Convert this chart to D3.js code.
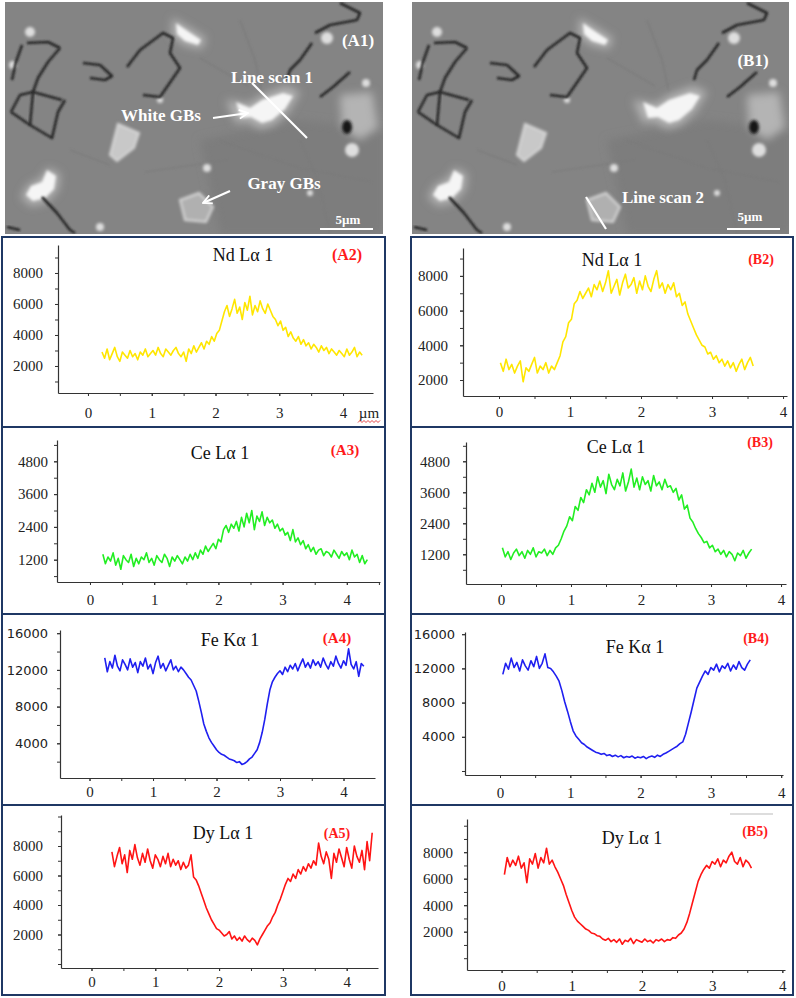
<!DOCTYPE html>
<html lang="en">
<head>
<meta charset="UTF-8">
<title>SEM line scans</title>
<script src="https://d3js.org/d3.v7.min.js"></script>
<style>
  body { margin: 0; background: #fff; }
  svg { display: block; }
</style>
</head>
<body>
<svg id="fig" width="796" height="998"></svg>
<script>
// ---------- data ----------
const xTickValues = [0, 1, 2, 3, 4];
const scanStep = 0.04; // µm between scan points

const ndTicks = [2000, 4000, 6000, 8000];
const ceTicks = [1200, 2400, 3600, 4800];
const feTicks = [4000, 8000, 12000, 16000];
const dyTicks = [2000, 4000, 6000, 8000];

// line scan 1 (column A)
const ndScan1Start = 0.22;
const ndScan1 = [
  2900, 2500, 3100, 2400, 2800, 3200, 2600, 2300, 2900, 2700,
  2500, 3000, 2600, 2800, 2400, 2900, 2700, 3100, 2600, 2800,
  3000, 2700, 3200, 2800, 2600, 3100, 2900, 2700, 3000, 3200,
  2800, 2600, 2900, 2300, 3100, 2800, 3300, 2900, 3200, 3500,
  3100, 3600, 3400, 3900, 3600, 4100, 4300, 4900, 5500, 5900,
  5200, 5700, 6300, 5400, 5800, 5000, 6100, 5600, 6500, 5300,
  5900, 5500, 6200, 5700, 5400, 6000, 5600, 5200, 5000, 4600,
  4900, 4300, 4500, 3900, 4200, 3800, 3600, 3900, 3400, 3700,
  3300, 3500, 3100, 3400, 3200, 2900, 3300, 3000, 3200, 2800,
  3100, 2900, 2700, 3000, 2800, 2600, 3100, 2700, 2900, 3200,
  2600, 2900, 2700
];
const ceScan1Start = 0.20;
const ceScan1 = [
  1400, 1050, 1300, 1150, 1450, 1000, 1250, 850, 1350, 1200,
  1100, 1400, 950, 1250, 1050, 1300, 1200, 1450, 1100, 1250,
  1000, 1350, 1200, 1100, 1400, 1250, 950, 1300, 1150, 1350,
  1200, 1050, 1300, 1150, 1400, 1200, 1450, 1250, 1550, 1400,
  1700, 1500, 1650, 1800, 1600, 1950, 1850, 2300, 2450, 2200,
  2500, 2350, 2600, 2250, 2750, 2400, 2900, 2550, 3000, 2300,
  2800, 2600, 2950, 2450, 2750, 2550, 2650, 2350, 2500, 2250,
  2350, 2100, 2200, 1900, 2300, 1850, 2000, 1750, 1900, 1600,
  1750, 1500, 1650, 1400, 1550, 1600, 1350, 1500, 1450, 1300,
  1550, 1400, 1250, 1500, 1350, 1450, 1200, 1550, 1300, 1400,
  1100, 1350, 1050, 1200
];
const feScan1Start = 0.24;
const feScan1 = [
  13300, 11800, 12900, 12200, 13600, 12400, 11900, 13100, 12600, 12000,
  13200, 12300, 12800, 11700, 12900, 12400, 13300, 12100, 12600, 11600,
  12800, 13500, 12200, 12700, 11900, 12500, 13100, 12000, 12400, 11800,
  12300, 12000, 11600, 11200, 10900, 10300, 9700, 8600, 7400, 6100,
  5300, 4600, 4100, 3700, 3300, 3000, 2800, 2700, 2500, 2300,
  2200, 2100, 1900, 2000, 1700, 1800, 2000, 2300, 2500, 2900,
  3300, 4100, 5200, 6600, 8300, 9800, 10700, 11200, 11600, 11900,
  11500, 12300, 11800, 12500, 12100, 12700, 11900, 12600, 13200, 12300,
  12800, 12200, 13100, 12500, 12900, 12300, 13300, 12600, 12100, 12900,
  12400, 13500, 12700, 12200, 13000, 12500, 14300, 12600, 12100, 12900,
  11300, 12700, 12400
];
const dyScan1Start = 0.32;
const dyScan1 = [
  7600, 6600, 7300, 7900, 6800, 7400, 6200, 7700, 7100, 8100,
  7200, 6700, 7500, 6900, 7800, 7000, 6500, 7400, 7100, 6600,
  7300, 6800, 7500, 6600, 7100, 6700, 7000, 6400, 6900, 6500,
  6700, 7400, 5900, 5700, 5300, 4800, 4300, 3800, 3400, 3000,
  2700, 2400, 2300, 2100, 1900, 2000, 2200, 1700, 1900, 1600,
  1800, 1550, 1900, 1650, 1500, 1750, 1600, 1300, 1700, 2000,
  2300, 2600, 2800, 3200, 3500, 4000, 4400, 4900, 5400, 5800,
  5600, 6100, 5800, 6400, 6100, 6600, 6300, 6800, 6500, 7000,
  6700, 8200, 7300, 6800, 7600, 7100, 5800, 7500, 6900, 7800,
  7200, 6600, 7900, 7100, 6500, 8000, 7300, 6900, 7700, 6400,
  8300, 7000, 8900
];

// line scan 2 (column B)
const ndScan2Start = 0.02;
const ndScan2 = [
  3000, 2500, 3200, 2600, 2900, 2400, 2800, 3100, 1900, 2700,
  2500, 2900, 3300, 2400, 2800, 2600, 3000, 2400, 2800, 2600,
  3000, 3400, 4200, 4500, 5300, 5500, 6400, 6600, 7100, 6700,
  7000, 7300, 6800, 7500, 7200, 7700, 7100, 7600, 8300, 7000,
  7400, 7800, 6900, 7600, 8100, 7300, 7500, 7900, 7000, 7700,
  7200, 8000, 7400, 7100, 7800, 8300, 7300, 7600, 7000, 7500,
  7200, 7600, 6800, 7000, 6300, 6500, 5800, 5400, 5000, 4600,
  4300, 4000, 3900, 3500, 3600, 3200, 3400, 3000, 3200, 2800,
  3100, 2700, 3000, 2500, 2900, 3200, 2600, 3000, 3300, 2800
];
const ceScan2Start = 0.02;
const ceScan2 = [
  1450, 1100, 1300, 1000, 1250, 1400, 1150, 1300, 1050, 1350,
  1200, 1450, 1100, 1300, 1250, 1400, 1150, 1350, 1200, 1450,
  1550, 1800, 2100, 2300, 2650, 2500, 3050, 2900, 3400, 3200,
  3700, 3500, 3950, 3600, 4200, 3800, 4050, 3550, 4300, 3900,
  3700, 4100, 3850, 4350, 3650, 4000, 4500, 3800, 4150, 3700,
  4200, 3900, 4050, 3650, 4250, 3850, 4000, 3700, 4100, 3800,
  3850, 3600, 3750, 3300, 3500, 2950, 3100, 2600, 2450, 2200,
  2000, 1850, 1650, 1700, 1450, 1550, 1300, 1400, 1200, 1350,
  1100, 1300, 1200, 950, 1250, 1150, 1350, 1050, 1250, 1400
];
const feScan2Start = 0.04;
const feScan2 = [
  11300, 12600, 11900, 13200, 12100, 12700, 11700, 13000, 12300, 11800,
  12900, 12200, 13400, 12000, 12600, 13700, 12100, 12000, 11600, 11100,
  10500, 9400, 8100, 7000, 5800, 4700, 4100, 3700, 3300, 3100,
  2800, 2600, 2400, 2200, 2100, 1950, 2050, 1800, 1900, 1700,
  1850, 1650, 1800, 1550, 1700, 1600, 1750, 1500, 1650, 1550,
  1700, 1450, 1650, 1750, 1600, 1850, 1700, 1950, 2100, 2300,
  2500, 2700, 2900, 3200, 3400, 4300, 5600, 6900, 8300, 9700,
  10400, 11100, 11700, 11300, 12100, 11800, 12500, 11600, 12300, 12000,
  12600, 11700, 12400, 11900, 12800, 12100, 11800, 12500, 13000
];
const dyScan2Start = 0.04;
const dyScan2 = [
  6300, 7600, 6900, 7400, 7000, 7700, 6800, 7200, 5700, 7500,
  7100, 7900, 6800, 7600, 7200, 8300, 7100, 7400, 6900, 6500,
  6000, 5500, 4800, 4200, 3600, 3100, 2800, 2600, 2400, 2200,
  2100, 1900, 1850, 1700, 1650, 1450, 1350, 1500, 1250, 1400,
  1200, 1450, 1050, 1350, 1250, 1500, 1100, 1400, 1300, 1200,
  1450, 1250, 1350, 1150, 1400, 1300, 1450, 1250, 1400, 1350,
  1550, 1500, 1750, 1900, 2200, 2700, 3400, 4200, 5000, 5800,
  6300, 6700, 7000, 6800, 7300, 7100, 7500, 6900, 7400, 7200,
  7700, 8000, 7300, 7100, 7600, 6900, 7400, 7200, 6800
];

const colors = { nd: "#ffe600", ce: "#22ee22", fe: "#1f1ff0", dy: "#ff1414" };
const frameColor = "#1f3864";
const serif = "'Liberation Serif', 'Times New Roman', serif";
const sans = "'DejaVu Sans', Verdana, sans-serif";

// ---------- panel layout ----------
const panels = [
  { tag: "(A2)", title: "Nd Lα 1", values: ndScan1, start: ndScan1Start, color: colors.nd,
    box: [2, 237, 385, 427], plot: [58, 245, 373, 393], xDomain: [-0.47, 4.47], yDomain: [258, 9806],
    yTicks: ndTicks, yMinor: 1000, titleAt: [243, 261], tagAt: [347, 260], tagSize: 16,
    xPad: 11, yPad: 12, yFont: serif, unit: true },
  { tag: "(B2)", title: "Nd Lα 1", values: ndScan2, start: ndScan2Start, color: colors.nd,
    box: [411, 237, 793, 427], plot: [463, 248, 787, 396], xDomain: [-0.507, 4.056], yDomain: [1078, 9608],
    yTicks: ndTicks, yMinor: 1000, titleAt: [612, 266], tagAt: [761, 264], tagSize: 14,
    xPad: 7, yPad: 12, yFont: serif },
  { tag: "(A3)", title: "Ce Lα 1", values: ceScan1, start: ceScan1Start, color: colors.ce,
    box: [2, 427, 385, 614], plot: [57, 440, 380, 582], xDomain: [-0.514, 4.517], yDomain: [384, 5580],
    yTicks: ceTicks, yMinor: 600, titleAt: [220, 459], tagAt: [345, 455], tagSize: 15,
    xPad: 9, yPad: 6, yFont: serif },
  { tag: "(B3)", title: "Ce Lα 1", values: ceScan2, start: ceScan2Start, color: colors.ce,
    box: [411, 427, 793, 614], plot: [466, 442, 786, 584], xDomain: [-0.5, 4.071], yDomain: [50, 5547],
    yTicks: ceTicks, yMinor: 600, titleAt: [616, 453], tagAt: [760, 447], tagSize: 14,
    xPad: 7, yPad: 13, yFont: serif },
  { tag: "(A4)", title: "Fe Kα 1", values: feScan1, start: feScan1Start, color: colors.fe,
    box: [2, 614, 385, 805], plot: [60, 630, 375, 778], xDomain: [-0.465, 4.496], yDomain: [218, 16349],
    yTicks: feTicks, yMinor: 2000, titleAt: [230, 646], tagAt: [337, 643], tagSize: 15,
    xPad: 5, yPad: 9, yFont: sans },
  { tag: "(B4)", title: "Fe Kα 1", values: feScan2, start: feScan2Start, color: colors.fe,
    box: [411, 614, 793, 805], plot: [465, 632, 783, 775], xDomain: [-0.498, 4.026], yDomain: [-468, 16257],
    yTicks: feTicks, yMinor: 4000, titleAt: [635, 653], tagAt: [756, 643], tagSize: 14,
    xPad: 9, yPad: 7, yFont: sans },
  { tag: "(A5)", title: "Dy Lα 1", values: dyScan1, start: dyScan1Start, color: colors.dy,
    box: [2, 805, 385, 995], plot: [61, 815, 378, 968], xDomain: [-0.478, 4.491], yDomain: [-271, 10102],
    yTicks: dyTicks, yMinor: 1000, titleAt: [223, 839], tagAt: [337, 838], tagSize: 14,
    xPad: 5, yPad: 15, yFont: serif },
  { tag: "(B5)", title: "Dy Lα 1", values: dyScan2, start: dyScan2Start, color: colors.dy,
    box: [411, 805, 793, 995], plot: [467, 819, 785, 970], xDomain: [-0.493, 4.038], yDomain: [-891, 10506],
    yTicks: dyTicks, yMinor: 1000, titleAt: [632, 844], tagAt: [755, 836], tagSize: 14,
    xPad: 7, yPad: 11, yFont: serif }
];

const svg = d3.select("#fig");
const defs = svg.append("defs");
function blurFilter(id, sd) {
  defs.append("filter").attr("id", id).attr("x", "-60%").attr("y", "-60%")
    .attr("width", "220%").attr("height", "220%")
    .append("feGaussianBlur").attr("stdDeviation", sd);
}
blurFilter("blurBig", 4);
blurFilter("blurMid", 1.8);
blurFilter("blurEdge", 0.8);
defs.append("marker").attr("id", "arrowHead").attr("viewBox", "0 0 10 10")
  .attr("refX", 9).attr("refY", 5).attr("markerWidth", 5).attr("markerHeight", 5)
  .attr("orient", "auto").attr("markerUnits", "strokeWidth")
  .append("path").attr("d", "M1,1 L9,5 L1,9").attr("fill", "none").attr("stroke", "#fff").attr("stroke-width", 1.6);

// ---------- micrographs (decoration, not data) ----------
const halos = [
  [[48,168],[60,174],[58,190],[47,202],[31,206],[21,197],[28,185],[40,179]],
  [[226,100],[249,104],[262,95],[286,86],[300,92],[289,111],[274,125],[260,129],[247,121],[236,123]],
  [[172,18],[188,27],[206,38],[202,49],[184,45],[172,36]],
  [[340,95],[372,92],[378,128],[360,140],[342,128]]
];
const brights = [
  [[47,170],[56,176],[54,189],[45,198],[33,201],[26,195],[31,186],[42,182]],
  [[236,102],[250,108],[262,100],[283,93],[293,96],[285,109],[272,120],[262,123],[251,117],[241,118]],
  [[176,23],[186,30],[201,40],[198,45],[185,41],[177,34]]
];
const grayPatches = [
  { pts: [[118,124],[139,133],[134,148],[117,161],[110,155]], fill: "#c8c8c8" },
  { pts: [[180,200],[199,193],[213,207],[206,222],[185,220]], fill: "#b0b0b0" }
];
const spots = [[30,32,5],[13,65,4],[327,38,6],[366,83,4],[352,150,7],[207,168,4],[100,227,4],[310,193,3],[160,100,3]];
const darkPaths = [
  "M27,43 L48,42 L60,48",
  "M60,48 L48,62 L38,78 L33,92",
  "M11,112 L30,125 L52,138 L58,112 L65,100",
  "M11,112 L20,95 L33,92 L62,100",
  "M33,92 L30,125",
  "M22,45 L16,62 L12,80",
  "M83,63 L100,65 L112,76 L105,80 L90,78",
  "M127,67 L140,50 L163,33 L173,38 L170,53 L180,68 L160,97 L143,95",
  "M340,3 L360,13 L357,20 L330,25 L315,33",
  "M312,43 L300,60 L290,70 L287,80",
  "M350,72 L333,87 L320,97",
  "M42,197 L57,213 L70,230 L75,233",
  "M7,227 L20,230"
];
const faintPaths = [
  "M200,58 L248,86", "M218,140 L300,168 L372,182", "M145,172 L228,160",
  "M240,20 L255,60 L262,92", "M300,140 L318,180 L330,233", "M70,150 L110,165"
];

function drawMicrograph(ox, w, labels) {
  const clipId = "clip" + ox;
  defs.append("clipPath").attr("id", clipId)
    .append("rect").attr("x", 5).attr("y", 2).attr("width", w).attr("height", 232);
  const outer = svg.append("g").attr("transform", `translate(${ox},0)`);
  const g = outer.append("g").attr("clip-path", `url(#${clipId})`);
  g.append("rect").attr("x", 5).attr("y", 2).attr("width", w).attr("height", 232).attr("fill", "#848484");
  // darker grain tone on the lower right
  g.append("path").attr("d", "M200,140 L300,120 L383,130 L383,234 L220,234 Z")
    .attr("fill", "#7d7d7d").attr("filter", "url(#blurBig)");
  g.selectAll(".faint").data(faintPaths).join("path")
    .attr("d", d => d).attr("fill", "none").attr("stroke", "#7a7a7a").attr("stroke-width", 1.2)
    .attr("filter", "url(#blurEdge)");
  g.selectAll(".halo").data(halos).join("polygon")
    .attr("points", d => d.join(" ")).attr("fill", "#b4b4b4").attr("filter", "url(#blurBig)");
  g.selectAll(".gray").data(grayPatches).join("polygon")
    .attr("points", d => d.pts.join(" ")).attr("fill", d => d.fill)
    .attr("stroke", "#d8d8d8").attr("stroke-width", 2).attr("filter", "url(#blurMid)");
  g.selectAll(".bright").data(brights).join("polygon")
    .attr("points", d => d.join(" ")).attr("fill", "#f5f5f5").attr("filter", "url(#blurMid)");
  g.selectAll(".spot").data(spots).join("circle")
    .attr("cx", d => d[0]).attr("cy", d => d[1]).attr("r", d => d[2])
    .attr("fill", "#dedede").attr("filter", "url(#blurMid)");
  g.selectAll(".dark").data(darkPaths).join("path")
    .attr("d", d => d).attr("fill", "none").attr("stroke", "#262626").attr("stroke-width", 2.6)
    .attr("stroke-linejoin", "round").attr("filter", "url(#blurEdge)");
  g.append("ellipse").attr("cx", 347).attr("cy", 127).attr("rx", 5).attr("ry", 7)
    .attr("fill", "#151515").attr("filter", "url(#blurMid)");
  labels(outer);
}

function whiteText(g, txt, x, y, size) {
  g.append("text").attr("x", x).attr("y", y).attr("text-anchor", "middle")
    .attr("font-family", serif).attr("font-weight", "bold").attr("font-size", size)
    .attr("fill", "#fff").text(txt);
}
function whiteLine(g, x1, y1, x2, y2, arrow) {
  const l = g.append("line").attr("x1", x1).attr("y1", y1).attr("x2", x2).attr("y2", y2)
    .attr("stroke", "#fff").attr("stroke-width", 2.2);
  if (arrow) l.attr("marker-end", "url(#arrowHead)");
}

drawMicrograph(0, 378, g => {
  whiteText(g, "(A1)", 358, 46, 17);
  whiteText(g, "Line scan 1", 272, 83, 17);
  whiteLine(g, 252, 83, 307, 138);
  whiteText(g, "White GBs", 161, 121, 17);
  whiteLine(g, 213, 118, 248, 113, true);
  whiteText(g, "Gray GBs", 284, 189, 17);
  whiteLine(g, 230, 191, 203, 203, true);
  whiteText(g, "5µm", 348, 224, 13);
  whiteLine(g, 320, 229, 373, 229);
});
drawMicrograph(407, 377, g => {
  whiteText(g, "(B1)", 346, 66, 17);
  whiteText(g, "Line scan 2", 256, 203, 17);
  whiteLine(g, 179, 197, 199, 229);
  whiteText(g, "5µm", 343, 221, 13);
  whiteLine(g, 320, 229, 373, 229);
});

// ---------- line-scan panels ----------
const intFmt = d3.format("d");
panels.forEach(p => {
  const [l, t, r, b] = p.plot;
  const x = d3.scaleLinear().domain(p.xDomain).range([l, r]);
  const y = d3.scaleLinear().domain(p.yDomain).range([b, t]);
  const g = svg.append("g");

  g.append("rect").attr("x", p.box[0]).attr("y", p.box[1])
    .attr("width", p.box[2] - p.box[0]).attr("height", p.box[3] - p.box[1])
    .attr("fill", "#fff").attr("stroke", frameColor).attr("stroke-width", 2);

  // minor ticks
  const yMinorVals = d3.range(Math.ceil(p.yDomain[0] / p.yMinor) * p.yMinor, p.yDomain[1], p.yMinor);
  g.append("g").attr("transform", `translate(${l},0)`)
    .call(d3.axisLeft(y).tickValues(yMinorVals).tickSize(3).tickFormat(""))
    .call(a => a.select(".domain").remove())
    .selectAll("line").attr("stroke", "#333");
  const xMinorVals = d3.range(0, p.xDomain[1], 0.5);
  g.append("g").attr("transform", `translate(0,${b})`)
    .call(d3.axisBottom(x).tickValues(xMinorVals).tickSize(3).tickFormat(""))
    .call(a => a.select(".domain").remove())
    .selectAll("line").attr("stroke", "#333");

  // main axes
  const ya = g.append("g").attr("transform", `translate(${l},0)`)
    .call(d3.axisLeft(y).tickValues(p.yTicks).tickFormat(intFmt)
      .tickSize(3).tickSizeOuter(0).tickPadding(p.yPad));
  const xa = g.append("g").attr("transform", `translate(0,${b})`)
    .call(d3.axisBottom(x).tickValues(xTickValues).tickFormat(intFmt)
      .tickSize(3).tickSizeOuter(0).tickPadding(p.xPad));
  [ya, xa].forEach(a => {
    a.select(".domain").attr("stroke", "#333").attr("stroke-width", 1.2);
    a.selectAll(".tick line").attr("stroke", "#333");
  });
  ya.selectAll("text").attr("font-family", p.yFont).attr("font-size", p.yFont === sans ? 13 : 15).attr("fill", "#222");
  xa.selectAll("text").attr("font-family", serif).attr("font-size", 15).attr("fill", "#222");

  // trace
  const line = d3.line()
    .x((d, i) => x(p.start + i * scanStep))
    .y(d => y(d));
  g.append("path").datum(p.values)
    .attr("d", line).attr("fill", "none")
    .attr("stroke", p.color).attr("stroke-width", 1.6).attr("stroke-linejoin", "round");

  // title and tag
  g.append("text").attr("x", p.titleAt[0]).attr("y", p.titleAt[1]).attr("text-anchor", "middle")
    .attr("font-family", serif).attr("font-size", 18).attr("fill", "#111").text(p.title);
  g.append("text").attr("x", p.tagAt[0]).attr("y", p.tagAt[1]).attr("text-anchor", "middle")
    .attr("font-family", serif).attr("font-weight", "bold").attr("font-size", p.tagSize)
    .attr("fill", "#ff1a1a").text(p.tag);

  if (p.unit) {
    g.append("text").attr("x", 369).attr("y", 418).attr("text-anchor", "middle")
      .attr("font-family", serif).attr("font-size", 15).attr("fill", "#222").text("µm");
    const wave = d3.range(0, 12).map(k => [358 + k * 2, k % 2 ? 420.5 : 422.5]);
    g.append("path").attr("d", d3.line()(wave)).attr("fill", "none")
      .attr("stroke", "#e03030").attr("stroke-width", 0.9);
  }
});

// faint rule above (B5)
svg.append("line").attr("x1", 730).attr("y1", 814).attr("x2", 773).attr("y2", 814)
  .attr("stroke", "#bbbbbb").attr("stroke-width", 1);
</script>
</body>
</html>
